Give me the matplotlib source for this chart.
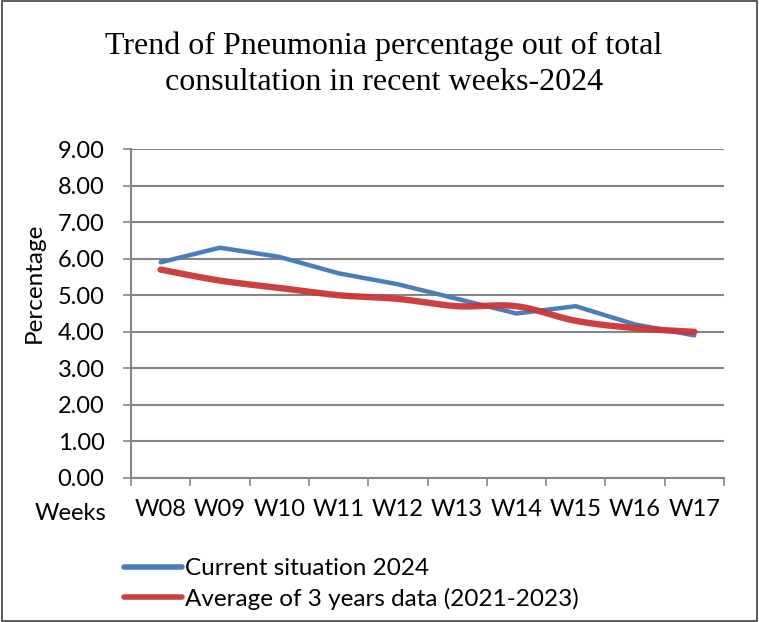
import numpy as np
import matplotlib
matplotlib.use("Agg")
import matplotlib.pyplot as plt
from matplotlib.patches import Rectangle

weeks = ["W08", "W09", "W10", "W11", "W12", "W13", "W14", "W15", "W16", "W17"]
current_2024 = [5.9, 6.3, 6.05, 5.6, 5.3, 4.9, 4.5, 4.7, 4.2, 3.9]
avg_2021_2023 = [5.7, 5.4, 5.2, 5.0, 4.9, 4.7, 4.7, 4.3, 4.1, 4.0]
y_ticks = [0, 1, 2, 3, 4, 5, 6, 7, 8, 9]

BLUE = "#4A7EBB"
RED = "#CC3636"
GRID = "#868686"


def smooth(xs, ys, n=20):
    # Catmull-Rom smoothing similar to spreadsheet "smoothed line"
    xs = np.asarray(xs, float); ys = np.asarray(ys, float)
    P = np.column_stack([xs, ys])
    P = np.vstack([P[0], P, P[-1]])
    out = []
    for i in range(1, len(P) - 2):
        p0, p1, p2, p3 = P[i - 1], P[i], P[i + 1], P[i + 2]
        t = np.linspace(0, 1, n, endpoint=False)[:, None]
        c1 = p1 + (p2 - p0) / 6
        c2 = p2 - (p3 - p1) / 6
        seg = ((1 - t) ** 3) * p1 + 3 * ((1 - t) ** 2) * t * c1 + 3 * (1 - t) * t ** 2 * c2 + t ** 3 * p2
        out.append(seg)
    out.append(P[-2][None, :])
    out = np.vstack(out)
    return out[:, 0], out[:, 1]


plt.rcParams['font.family'] = ['Lato', 'DejaVu Sans']

fig = plt.figure(figsize=(7.59, 6.22), dpi=100)
fig.patches.append(Rectangle((0.002, 0.002), 0.996, 0.996, transform=fig.transFigure,
                             fill=False, edgecolor="#404040", linewidth=1.2))

ax = fig.add_axes([131 / 759, 1 - 478 / 622, (724 - 131) / 759, (478 - 149) / 622])

x = np.arange(len(weeks))
ax.plot(x, current_2024, color=BLUE, linewidth=3.2, solid_capstyle='round',
        solid_joinstyle='round', label="Current situation 2024", zorder=3)
sx, sy = smooth(x, avg_2021_2023)
ax.plot(sx, sy, color=RED, linewidth=4.6, solid_capstyle='round',
        label="Average of 3 years data (2021-2023)", zorder=3, alpha=0.95)

ax.set_xlim(-0.5, len(weeks) - 0.5)
ax.set_ylim(0, 9)
ax.set_yticks(y_ticks)
ax.set_yticklabels([f"{v:.2f}" for v in y_ticks], fontsize=17)
ax.set_xticks(x)
ax.set_xticklabels(weeks, fontsize=17)
ax.set_xticks(np.arange(len(weeks) + 1) - 0.5, minor=True)
ax.tick_params(axis='x', which='major', length=0, pad=15)
ax.tick_params(axis='x', which='minor', length=6, color=GRID, width=1.2, direction='out')
ax.tick_params(axis='y', length=6, color=GRID, width=1.2, direction='out', pad=13)
ax.grid(axis='y', color=GRID, linewidth=1.5)
ax.set_axisbelow(True)
for s in ['top', 'right']:
    ax.spines[s].set_visible(False)
for s in ['left', 'bottom']:
    ax.spines[s].set_color(GRID)
    ax.spines[s].set_linewidth(1.5)

fig.text(34 / 759, 1 - 283 / 622, "Percentage", fontsize=17.5, rotation=90,
         ha='center', va='center')
fig.text(71 / 759, 1 - 513 / 622, "Weeks", fontsize=17, ha='center', va='center')

fig.text(384 / 759, 1 - 46 / 622, "Trend of Pneumonia percentage out of total",
         fontsize=23, family='Liberation Serif', ha='center', va='center')
fig.text(384 / 759, 1 - 82 / 622, "consultation in recent weeks-2024",
         fontsize=23, family='Liberation Serif', ha='center', va='center')

handles, labels = ax.get_legend_handles_labels()
leg = fig.legend(handles, labels, loc='center left', bbox_to_anchor=(124 / 759, 1 - 584 / 622),
                 frameon=False, fontsize=17.5, handlelength=2.4, handletextpad=0.1,
                 labelspacing=0.35, borderaxespad=0, borderpad=0)
for h in leg.get_lines():
    h.set_linewidth(4)

fig.savefig("out.png", dpi=100)
